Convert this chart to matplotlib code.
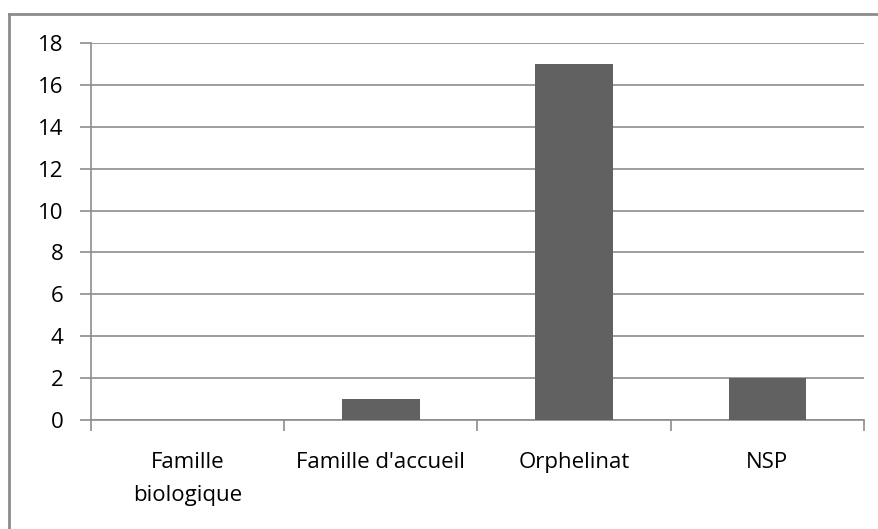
import numpy as np
import matplotlib.pyplot as plt
from matplotlib.lines import Line2D

# ====== DATA ======
categories = ["Famille\nbiologique", "Famille d'accueil", "Orphelinat", "NSP"]
values = [0, 1, 17, 2]
y_ticks = [0, 2, 4, 6, 8, 10, 12, 14, 16, 18]

plt.rcParams['font.family'] = ['Open Sans', 'DejaVu Sans']

W, H = 879, 529
fig = plt.figure(figsize=(W / 100, H / 100), dpi=100)
ax = fig.add_axes([91 / W, 1 - 420 / H, (864 - 91) / W, (420 - 43) / H])

x = np.arange(len(categories))
ax.bar(x, values, width=0.4, color="#616161", zorder=3)

# Excel-like axes
ax.set_xlim(-0.5, len(categories) - 0.5)
ax.set_ylim(0, 18)
ax.set_yticks(y_ticks)
ax.set_yticklabels([str(t) for t in y_ticks], fontsize=16, color="black")
ax.yaxis.grid(True, color="#8c8c8c", linewidth=1.2, zorder=0)

ax.set_xticks(np.arange(len(categories) + 1) - 0.5)
ax.set_xticklabels([])
ax.set_xticks(x, minor=True)
ax.set_xticklabels(categories, minor=True, fontsize=16, linespacing=1.75)
ax.tick_params(axis='x', which='minor', length=0, pad=23)
ax.tick_params(axis='x', which='major', length=8, color="#8c8c8c", width=1.2)
ax.tick_params(axis='y', length=8, color="#8c8c8c", width=1.2, pad=12)

for side in ["top", "right"]:
    ax.spines[side].set_visible(False)
for side in ["left", "bottom"]:
    ax.spines[side].set_color("#8c8c8c")
    ax.spines[side].set_linewidth(1.2)

# chart area border (left and top only visible)
fig.add_artist(Line2D([9 / W, 9 / W], [0, 1 - 14 / H], transform=fig.transFigure,
                      color="#8c8c8c", linewidth=2))
fig.add_artist(Line2D([9 / W, 1], [1 - 14 / H, 1 - 14 / H], transform=fig.transFigure,
                      color="#8c8c8c", linewidth=2))

fig.savefig("out.png", dpi=100)
